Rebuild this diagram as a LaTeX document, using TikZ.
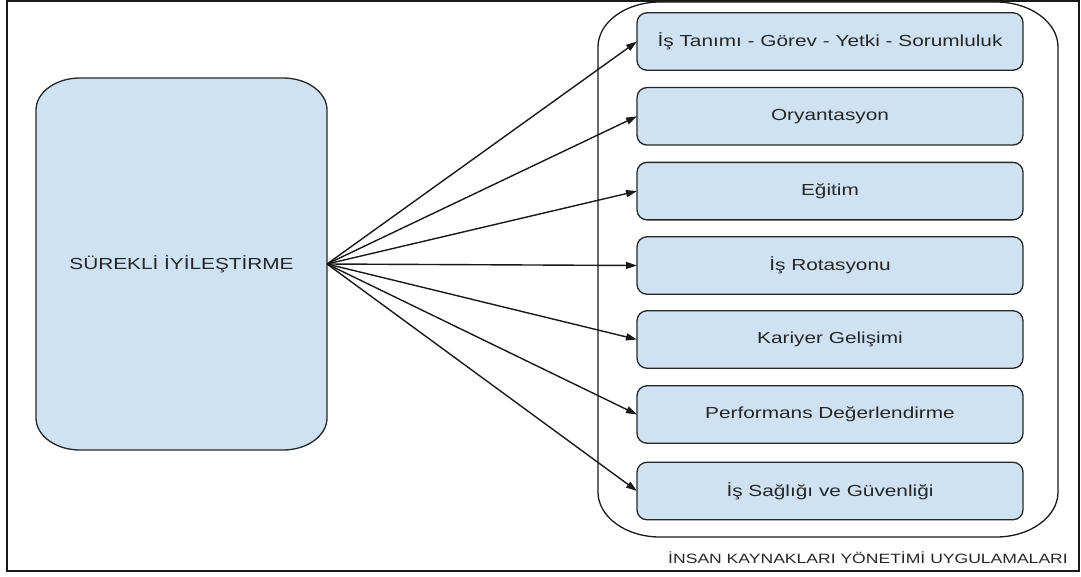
\documentclass[tikz,border=0pt]{standalone}
\usepackage{fontspec}
\setmainfont{Liberation Sans}[FakeStretch=1.3]
\usetikzlibrary{calc,arrows.meta}
\definecolor{boxblue}{HTML}{CFE2F3}
\newcommand\ellrect[4]{%
 \draw[#4] ($(#1.north west)+(0,#3)$) .. controls ($(#1.north west)+(0,0.448*#3)$) and ($(#1.north west)+(0.448*#2,0)$) .. ($(#1.north west)+(#2,0)$)
  -- ($(#1.north east)+(-#2,0)$) .. controls ($(#1.north east)+(-0.448*#2,0)$) and ($(#1.north east)+(0,0.448*#3)$) .. ($(#1.north east)+(0,#3)$)
  -- ($(#1.south east)+(0,-#3)$) .. controls ($(#1.south east)+(0,-0.448*#3)$) and ($(#1.south east)+(-0.448*#2,0)$) .. ($(#1.south east)+(-#2,0)$)
  -- ($(#1.south west)+(#2,0)$) .. controls ($(#1.south west)+(0.448*#2,0)$) and ($(#1.south west)+(0,-0.448*#3)$) .. ($(#1.south west)+(0,-#3)$)
  -- cycle;}
\tikzset{
  lbl/.style={font=\fontsize{16}{19}\selectfont, text=black!85},
  itembox/.style={lbl, draw=black!85, line width=1.3pt, fill=boxblue, rounded corners=10pt,
    minimum width=386pt, minimum height=57.5pt, inner sep=0pt, outer sep=0pt},
  shapeonly/.style={draw=none, inner sep=0pt, outer sep=0pt},
  conn/.style={line width=1.4pt, draw=black!90, -{Triangle[length=11pt,width=7pt]}}
}
\begin{document}
\begin{tikzpicture}[x=1pt,y=-1pt]
\useasboundingbox (0,0) rectangle (1081,576);
\node[shapeonly, minimum width=1072pt, minimum height=570pt] (frame) at (543,286) {};
\draw[line width=1.8pt, black!90] (frame.north west) rectangle (frame.south east);
% container
\node[shapeonly, minimum width=460pt, minimum height=535pt] (C) at (828,269.5) {};
\ellrect{C}{62}{45}{line width=1.3pt, black!90}
\node[lbl, font=\fontsize{13.5}{16}\selectfont] (Clabel) at (868,558) {İNSAN KAYNAKLARI YÖNETİMİ UYGULAMALARI};
% left box
\node[shapeonly, minimum width=291pt, minimum height=372pt] (L) at (181.5,264) {};
\ellrect{L}{44}{32}{line width=1.3pt, draw=black!85, fill=boxblue}
\node[lbl] (Ltext) at (181.5,264) {SÜREKLİ İYİLEŞTİRME};
% items
\node[itembox] (b1) at (830,41.5) {İş Tanımı - Görev - Yetki - Sorumluluk};
\node[itembox] (b2) at (830,116.3) {Oryantasyon};
\node[itembox] (b3) at (830,191.1) {Eğitim};
\node[itembox] (b4) at (830,265.5) {İş Rotasyonu};
\node[itembox] (b5) at (830,339.5) {Kariyer Gelişimi};
\node[itembox] (b6) at (830,414.5) {Performans Değerlendirme};
\node[itembox] (b7) at (830,491) {İş Sağlığı ve Güvenliği};
\foreach \i in {1,...,7}{\draw[conn] (L.east) -- (b\i.west);}
\end{tikzpicture}
\end{document}
